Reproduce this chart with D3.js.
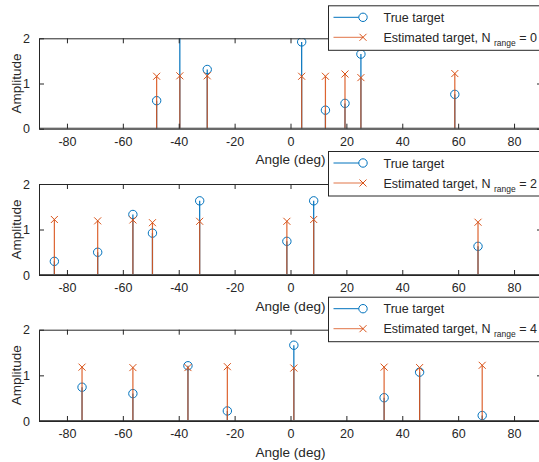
<!DOCTYPE html>
<html>
<head>
<meta charset="utf-8">
<script src="https://cdn.jsdelivr.net/npm/d3@7"></script>
<style>
  body { margin: 0; background: #fff; }
  text { font-family: "Liberation Sans", Arial, sans-serif; fill: #262626; }
</style>
</head>
<body>
<div id="chart"></div>
<script>
var width = 539,
    height = 462;

// angles (deg) shared by true / estimated targets in each panel
var angles1 = [-47.9, -39.6, -29.8, 4.0, 12.5, 19.5, 25.2, 58.8];
var trueAmp1 = [0.62, 2.35, 1.31, 1.92, 0.41, 0.56, 1.65, 0.76];
var estAmp1 = [1.16, 1.17, 1.17, 1.16, 1.16, 1.21, 1.13, 1.22];

var angles2 = [-84.5, -69.0, -56.4, -49.4, -32.5, -1.3, 8.3, 67.1];
var trueAmp2 = [0.30, 0.50, 1.33, 0.92, 1.63, 0.74, 1.63, 0.63];
var estAmp2 = [1.22, 1.19, 1.21, 1.15, 1.18, 1.18, 1.22, 1.16];

var angles3 = [-74.6, -56.4, -36.7, -22.6, 1.2, 33.5, 46.2, 68.6];
var trueAmp3 = [0.74, 0.60, 1.21, 0.22, 1.66, 0.51, 1.07, 0.12];
var estAmp3 = [1.18, 1.17, 1.17, 1.19, 1.16, 1.18, 1.17, 1.22];

var nRange = ["0", "2", "4"];
var xTicks = [-80, -60, -40, -20, 0, 20, 40, 60, 80];
var yTicks = [0, 1, 2];

var blue = "#0072BD",
    red = "#D95319",
    axisColor = "#262626";

var panels = [
  {angles: angles1, trueAmp: trueAmp1, estAmp: estAmp1, n: nRange[0], top: 38.3, bottom: 128.7},
  {angles: angles2, trueAmp: trueAmp2, estAmp: estAmp2, n: nRange[1], top: 184, bottom: 275},
  {angles: angles3, trueAmp: trueAmp3, estAmp: estAmp3, n: nRange[2], top: 329.7, bottom: 421}
];

var x = d3.scaleLinear()
    .domain([-90, 90])
    .range([39, 542]);

var svg = d3.select("#chart").append("svg")
    .attr("width", width)
    .attr("height", height);

panels.forEach(function(p, i) {
  var y = d3.scaleLinear()
      .domain([0, 2])
      .range([p.bottom, p.top]);

  var g = svg.append("g");

  svg.append("clipPath")
      .attr("id", "clip" + i)
    .append("rect")
      .attr("x", x.range()[0])
      .attr("y", p.top)
      .attr("width", x.range()[1] - x.range()[0])
      .attr("height", p.bottom - p.top);

  var plot = g.append("g").attr("clip-path", "url(#clip" + i + ")");

  // true target stems (blue, drawn first)
  plot.selectAll(".true-stem")
      .data(p.angles)
      .enter().append("line")
      .attr("x1", function(d) { return x(d); })
      .attr("x2", function(d) { return x(d); })
      .attr("y1", y(0))
      .attr("y2", function(d, j) { return y(p.trueAmp[j]); })
      .attr("stroke", blue)
      .attr("stroke-width", 1.2);

  plot.selectAll(".true-mark")
      .data(p.angles)
      .enter().append("circle")
      .attr("cx", function(d) { return x(d); })
      .attr("cy", function(d, j) { return y(p.trueAmp[j]); })
      .attr("r", 4.2)
      .attr("fill", "none")
      .attr("stroke", blue)
      .attr("stroke-width", 1);

  // estimated target stems (red, on top)
  plot.selectAll(".est-stem")
      .data(p.angles)
      .enter().append("line")
      .attr("x1", function(d) { return x(d); })
      .attr("x2", function(d) { return x(d); })
      .attr("y1", y(0))
      .attr("y2", function(d, j) { return y(p.estAmp[j]); })
      .attr("stroke", red)
      .attr("stroke-opacity", 0.9)
      .attr("stroke-width", 1.2);

  plot.selectAll(".est-mark")
      .data(p.angles)
      .enter().append("path")
      .attr("d", function(d, j) {
        var cx = x(d), cy = y(p.estAmp[j]), s = 3.5;
        return "M" + (cx - s) + "," + (cy - s) + "L" + (cx + s) + "," + (cy + s) +
               "M" + (cx - s) + "," + (cy + s) + "L" + (cx + s) + "," + (cy - s);
      })
      .attr("stroke", red)
      .attr("stroke-width", 1)
      .attr("fill", "none");

  // stem baseline
  g.append("line")
      .attr("x1", x.range()[0]).attr("x2", x.range()[1])
      .attr("y1", y(0) - 0.5).attr("y2", y(0) - 0.5)
      .attr("stroke", "#555")
      .attr("stroke-width", 1);

  // axes (box with inward ticks)
  var xAxis = g.append("g")
      .attr("transform", "translate(0," + p.bottom + ")")
      .call(d3.axisBottom(x).tickValues(xTicks).tickSizeInner(-5).tickSizeOuter(0).tickPadding(8));
  var xTop = g.append("g")
      .attr("transform", "translate(0," + p.top + ")")
      .call(d3.axisTop(x).tickValues(xTicks).tickSizeInner(-5).tickSizeOuter(0).tickFormat(""));
  var yAxis = g.append("g")
      .attr("transform", "translate(" + x.range()[0] + ",0)")
      .call(d3.axisLeft(y).tickValues(yTicks).tickFormat(d3.format("d"))
        .tickSizeInner(-5).tickSizeOuter(0).tickPadding(9));
  var yRight = g.append("g")
      .attr("transform", "translate(" + x.range()[1] + ",0)")
      .call(d3.axisRight(y).tickValues(yTicks).tickSizeInner(-5).tickSizeOuter(0).tickFormat(""));

  [xAxis, xTop, yAxis, yRight].forEach(function(a) {
    a.selectAll("path, line").attr("stroke", axisColor);
    a.selectAll("text")
        .attr("fill", axisColor)
        .style("font-family", "'Liberation Sans', Arial, sans-serif")
        .style("font-size", "12.5px");
  });
  xAxis.selectAll("text").text(function(d) { return d < 0 ? "-" + Math.abs(d) : d; });

  g.append("text")
      .attr("x", (x.range()[0] + x.range()[1]) / 2)
      .attr("y", p.bottom + 35.5)
      .attr("text-anchor", "middle")
      .style("font-size", "13.5px")
      .text("Angle (deg)");

  g.append("text")
      .attr("transform", "translate(21," + (p.top + p.bottom) / 2 + ")rotate(-90)")
      .attr("text-anchor", "middle")
      .style("font-size", "13.5px")
      .text("Amplitude");

  // legend
  var lg = g.append("g")
      .attr("transform", "translate(328.5," + (p.top - 32.5) + ")");

  lg.append("rect")
      .attr("width", 220)
      .attr("height", 44.5)
      .attr("fill", "#fff")
      .attr("stroke", axisColor)
      .attr("stroke-width", 1);

  lg.append("line")
      .attr("x1", 5).attr("x2", 34.5)
      .attr("y1", 11.5).attr("y2", 11.5)
      .attr("stroke", blue);
  lg.append("circle")
      .attr("cx", 34.5).attr("cy", 11.5).attr("r", 4.2)
      .attr("fill", "#fff").attr("stroke", blue);
  lg.append("text")
      .attr("x", 55).attr("y", 16)
      .style("font-size", "12.5px")
      .text("True target");

  lg.append("line")
      .attr("x1", 5).attr("x2", 34.5)
      .attr("y1", 31.5).attr("y2", 31.5)
      .attr("stroke", red)
      .attr("stroke-opacity", 0.8);
  lg.append("path")
      .attr("d", "M31,28L38,35M31,35L38,28")
      .attr("stroke", red).attr("fill", "none");

  var t = lg.append("text")
      .attr("x", 55).attr("y", 36)
      .style("font-size", "12.5px");
  t.append("tspan").text("Estimated target, N ");
  t.append("tspan")
      .attr("dy", 4)
      .style("font-size", "8.5px")
      .text("range");
  t.append("tspan")
      .attr("dy", -4)
      .text(" = " + p.n);
});
</script>
</body>
</html>
